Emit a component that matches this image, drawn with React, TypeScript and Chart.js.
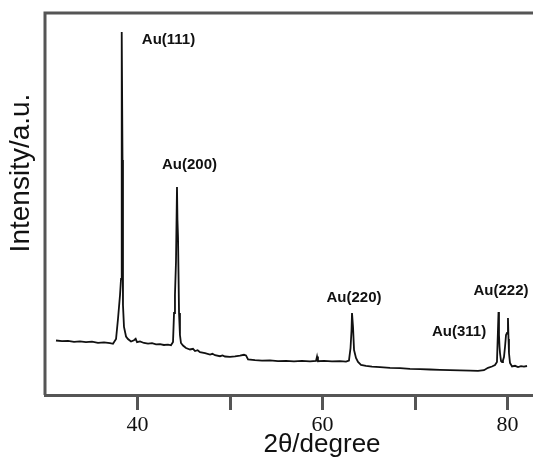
import React, { useEffect, useRef } from "react";
import { Chart, registerables } from "chart.js";

Chart.register(...registerables);

// 2θ positions (degree)
const twoTheta = [
  31.19, 31.84, 32.49, 33.14, 33.78, 34.43, 35.08, 35.73, 36.38, 37.03,
  37.35, 37.68, 37.89, 38.11, 38.22, 38.27, 38.32, 38.38, 38.43, 38.54,
  38.76, 38.97, 39.3, 39.62, 39.8, 39.95, 40.27, 40.7, 41.14, 41.57, 42.0,
  42.43, 42.86, 43.3, 43.62, 43.84, 43.95, 44.05, 44.16, 44.27, 44.32,
  44.38, 44.49, 44.59, 44.7, 44.92, 45.24, 45.68, 46.0, 46.22, 46.5, 46.76, 47.3,
  47.84, 48.1, 48.38, 48.92, 49.2, 49.46, 50.0, 50.54, 51.08, 51.51, 51.73, 51.95,
  52.7, 53.46, 54.32, 55.19, 56.05, 56.92, 57.78, 58.65, 59.3, 59.41,
  59.51, 60.16, 61.03, 61.89, 62.54, 62.86, 63.03, 63.14, 63.19, 63.3,
  63.41, 63.62, 63.84, 64.16, 64.7, 65.35, 66.22, 67.3, 68.38, 69.46,
  70.54, 71.62, 72.7, 73.78, 74.86, 75.95, 76.81, 77.46, 77.89, 78.32,
  78.65, 78.86, 78.97, 79.03, 79.08, 79.14, 79.19, 79.3, 79.41, 79.51,
  79.62, 79.73, 79.84, 79.95, 80.05, 80.11, 80.16, 80.27, 80.49, 80.81,
  81.14, 81.46, 81.78, 82.11,
];

// intensity (a.u.)
const intensity = [
  545, 538, 542, 531, 536, 528, 533, 522, 527, 518,
  512, 560, 760, 1000, 1160, 2250, 3630, 2350, 900, 680,
  585, 560, 535, 548, 562, 528, 536, 520, 514, 518, 506,
  509, 500, 503, 497, 530, 820, 1000, 1330, 2080, 1750,
  1580, 820, 600, 520, 495, 470, 455, 462, 440, 448, 428, 418,
  405, 412, 398, 388, 396, 385, 382, 386, 394, 402, 396, 355,
  348, 343, 346, 339, 342, 337, 341, 336, 340, 385,
  338, 342, 336, 339, 334, 345, 470, 650, 820, 680,
  450, 370, 330, 300, 292, 284, 278, 271, 268, 262,
  259, 255, 251, 248, 246, 243, 241, 248, 272, 285,
  300, 330, 650, 830, 600, 480, 420, 340, 330, 345,
  380, 480, 600, 620, 770, 560, 420, 320, 285, 292,
  280, 288, 283, 290,
];

const xTicks = [40, 50, 60, 70, 80];
const xTickLabels: Record<number, string> = { 40: "40", 60: "60", 80: "80" };

const peakLabels = ["Au(111)", "Au(200)", "Au(220)", "Au(311)", "Au(222)"];
const peakLabelX = [43.35, 45.62, 63.41, 74.76, 79.3];
const peakLabelY = [3550, 2300, 970, 630, 1040];

const xTitle = "2θ/degree";
const yTitle = "Intensity/a.u.";

const sans = "'Liberation Sans', Arial, sans-serif";
const serif = "'Liberation Serif', 'Times New Roman', serif";

const framePlugin = {
  id: "frameAndText",
  afterDraw(chart: any) {
    const { ctx, chartArea } = chart;
    const { left, top, right, bottom } = chartArea;
    ctx.save();
    ctx.strokeStyle = "#555";
    ctx.lineWidth = 3;
    ctx.beginPath();
    ctx.moveTo(left, bottom);
    ctx.lineTo(left, top);
    ctx.lineTo(right, top);
    ctx.lineTo(right, bottom);
    ctx.stroke();

    const xs = chart.scales.x;
    const ys = chart.scales.y;
    ctx.fillStyle = "#111";
    ctx.textAlign = "center";
    ctx.textBaseline = "middle";
    ctx.font = `bold 15px ${sans}`;
    peakLabels.forEach((t, i) => {
      ctx.fillText(t, xs.getPixelForValue(peakLabelX[i]), ys.getPixelForValue(peakLabelY[i]));
    });

    ctx.font = `26px ${sans}`;
    ctx.fillText(xTitle, 322, 445);

    ctx.translate(21, 173);
    ctx.rotate(-Math.PI / 2);
    ctx.font = `28px ${sans}`;
    ctx.fillText(yTitle, 0, 0);
    ctx.restore();
  },
};

export default function App() {
  const ref = useRef<HTMLCanvasElement | null>(null);

  useEffect(() => {
    if (!ref.current) return;
    const chart = new Chart(ref.current, {
      type: "line",
      data: {
        labels: twoTheta,
        datasets: [
          {
            data: twoTheta.map((x, i) => ({ x, y: intensity[i] })),
            borderColor: "#111",
            borderWidth: 1.8,
            pointRadius: 0,
            tension: 0,
            fill: false,
          },
        ],
      },
      options: {
        animation: false,
        responsive: false,
        maintainAspectRatio: false,
        devicePixelRatio: 1,
        layout: { padding: { left: 45, top: 13, right: 0, bottom: 0 } },
        plugins: { legend: { display: false }, tooltip: { enabled: false }, title: { display: false } },
        scales: {
          x: {
            type: "linear",
            min: 30,
            max: 90,
            afterBuildTicks: (scale: any) => {
              scale.ticks = xTicks.map((v) => ({ value: v }));
            },
            afterFit: (scale: any) => {
              scale.height = 70;
            },
            ticks: {
              autoSkip: false,
              maxRotation: 0,
              padding: 2,
              color: "#111",
              font: { family: serif, size: 22 },
              callback: (v: any) => xTickLabels[v as number] ?? "",
            },
            grid: {
              display: true,
              drawOnChartArea: false,
              drawTicks: true,
              tickLength: 15,
              lineWidth: 3,
              color: "#555",
            },
            border: { display: true, width: 3, color: "#555" },
          },
          y: {
            display: false,
            min: 0,
            max: 3820,
          },
        },
      },
      plugins: [framePlugin],
    });
    return () => chart.destroy();
  }, []);

  return (
    <div style={{ position: "absolute", left: 0, top: 0, width: 533, height: 465, overflow: "hidden", background: "#fff" }}>
      <canvas ref={ref} width={600} height={465} style={{ display: "block" }} />
    </div>
  );
}
